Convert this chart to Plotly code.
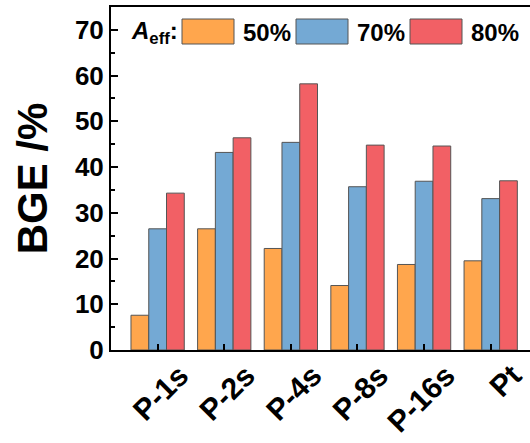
import plotly.graph_objects as go

categories = ["P-1s", "P-2s", "P-4s", "P-8s", "P-16s", "Pt"]
series_names = ["50%", "70%", "80%"]
bge_50 = [7.6, 26.5, 22.2, 14.1, 18.7, 19.5]
bge_70 = [26.5, 43.2, 45.4, 35.7, 36.9, 33.1]
bge_80 = [34.3, 46.4, 58.2, 44.8, 44.6, 37.0]
colors = ["#FFA64D", "#74A9D4", "#F26065"]
y_ticks = [0, 10, 20, 30, 40, 50, 60, 70]

FONT = "Liberation Sans, Arial, sans-serif"

fig = go.Figure()
for name, vals, col in zip(series_names, [bge_50, bge_70, bge_80], colors):
    fig.add_trace(go.Bar(
        x=categories, y=vals, name=name,
        marker=dict(color=col, line=dict(color="#555555", width=1)),
        showlegend=False,
    ))

# manual legend (swatches + text) in paper coordinates
W, H = 530, 443
ml, mt, mb, mr = 111, 7, 93, 0
pw, ph = W - ml - mr, H - mt - mb

def px2paper(x, y):
    return (x - ml) / pw, (H - mb - y) / ph

sw_x = [182, 296, 410]
sw_w = 52
for i, (name, col) in enumerate(zip(series_names, colors)):
    x0, y0 = px2paper(sw_x[i], 19)
    x1, y1 = px2paper(sw_x[i] + sw_w, 44)
    fig.add_shape(type="rect", xref="paper", yref="paper",
                  x0=x0, x1=x1, y0=y1, y1=y0,
                  fillcolor=col, line=dict(color="#555555", width=1))
    tx, ty = px2paper(sw_x[i] + sw_w + 7, 32)
    fig.add_annotation(xref="paper", yref="paper", x=tx, y=ty,
                       text="<b>%s</b>" % name, showarrow=False,
                       xanchor="left", yanchor="middle",
                       font=dict(family=FONT, size=24, color="black"))
lx, ly = px2paper(129, 32)
fig.add_annotation(xref="paper", yref="paper", x=lx, y=ly,
                   text="<b><i>A</i><sub>eff</sub>:</b>", showarrow=False,
                   xanchor="left", yanchor="middle",
                   font=dict(family=FONT, size=24, color="black"))

fig.update_layout(
    width=W, height=H,
    margin=dict(l=ml, r=mr, t=mt, b=mb, autoexpand=False),
    paper_bgcolor="white", plot_bgcolor="white",
    barmode="group", bargap=0.2, bargroupgap=0,
    font=dict(family=FONT, color="black"),
)
fig.update_xaxes(
    range=[-0.7, 5.59], automargin=False,
    showline=True, linecolor="black", linewidth=2, mirror=True,
    ticks="inside", ticklen=6, tickwidth=2, tickcolor="black",
    tickangle=-45, ticklabelshift=22, ticklabelstandoff=-6,
    tickfont=dict(family=FONT, size=30, color="black", weight="bold"),
    showgrid=False, zeroline=False,
)
fig.update_yaxes(
    range=[0, 75], automargin=False,
    tickvals=y_ticks,
    showline=True, linecolor="black", linewidth=2, mirror=False,
    ticks="inside", ticklen=7, tickwidth=2, tickcolor="black",
    minor=dict(dtick=5, ticks="inside", ticklen=4, tickwidth=2, tickcolor="black", showgrid=False),
    tickfont=dict(family=FONT, size=26, color="black", weight="bold"),
    title=dict(text="BGE /%", font=dict(family=FONT, size=42, color="black", weight="bold"), standoff=14),
    showgrid=False, zeroline=False,
)

fig.write_html("out.html")
